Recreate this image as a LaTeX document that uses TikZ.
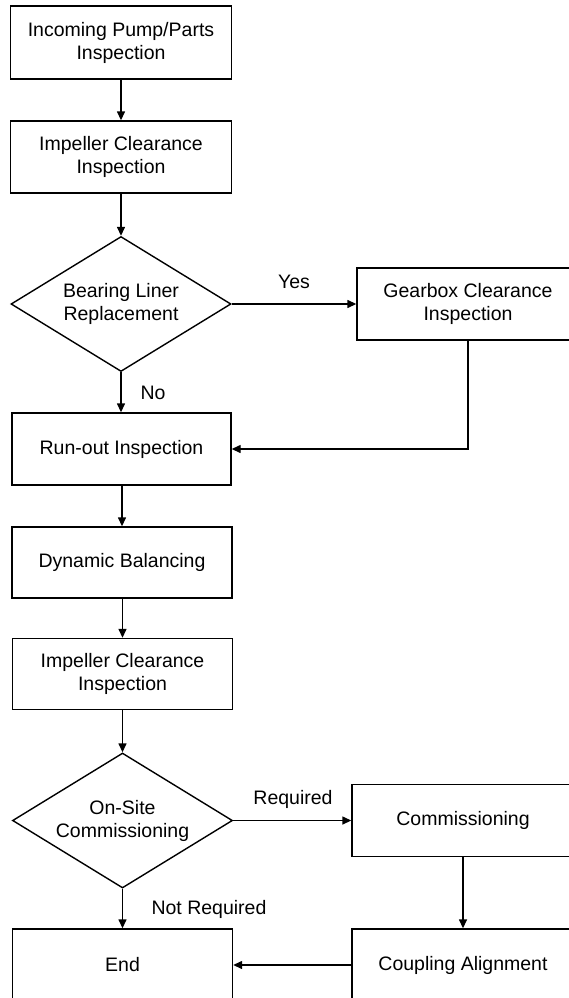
\documentclass[tikz,border=0pt]{standalone}
\usepackage{fontspec}
\setmainfont{Liberation Sans}
\usetikzlibrary{arrows.meta,shapes.geometric}
\begin{document}
\begin{tikzpicture}[x=1pt,y=-1pt,
    every node/.style={font=\fontsize{19.5}{23}\selectfont},
    procbox/.style={draw,line width=1.4pt,rectangle,align=center,
      minimum width=221pt,minimum height=72pt,inner sep=0pt},
    decision/.style={draw,line width=1.4pt,diamond,aspect=1.63,align=center,
      minimum width=220pt,minimum height=135pt,inner sep=0pt},
    flow/.style={line width=1.4pt,-{Triangle[length=9pt,width=8pt]}},
    lbl/.style={inner sep=0pt}]

\useasboundingbox (0,0) rectangle (568,998);

\node[procbox,minimum height=73pt] (incoming) at (121,42.5) {Incoming Pump/Parts\\Inspection};
\node[procbox] (impA) at (121,157) {Impeller Clearance\\Inspection};
\node[decision] (bearing) at (121,304) {Bearing Liner\\Replacement};
\node[procbox,minimum width=222pt] (gearbox) at (468,304) {Gearbox Clearance\\Inspection};
\node[procbox,minimum width=219pt] (runout) at (121.5,449) {Run-out Inspection};
\node[procbox,minimum width=220pt,minimum height=71pt] (dynbal) at (122,562.5) {Dynamic Balancing};
\node[procbox,minimum width=220pt,minimum height=71pt] (impB) at (122.5,674) {Impeller Clearance\\Inspection};
\node[decision] (onsite) at (122.5,820.5) {On-Site\\Commissioning};
\node[procbox,minimum width=222pt] (commiss) at (463,820.5) {Commissioning};
\node[procbox,minimum width=222pt] (coupling) at (463,965) {Coupling Alignment};
\node[procbox,minimum width=220pt] (endbox) at (122.5,965) {End};

\node[lbl] (yes) at (294,282) {Yes};
\node[lbl] (no) at (153,393) {No};
\node[lbl] (req) at (293,799) {Required};
\node[lbl] (notreq) at (209,909) {Not Required};

\draw[flow] (incoming) -- (impA);
\draw[flow] (impA) -- (bearing);
\draw[flow] (bearing.east) -- (gearbox.west);
\draw[flow] (bearing.south) -- (runout.north -| bearing.south);
\draw[flow] (gearbox.south) |- (runout.east);
\draw[flow] (runout.south -| dynbal.north) -- (dynbal.north);
\draw[flow] (dynbal.south -| impB.north) -- (impB.north);
\draw[flow] (impB.south) -- (onsite.north);
\draw[flow] (onsite.east) -- (commiss.west);
\draw[flow] (onsite.south) -- (endbox.north);
\draw[flow] (commiss) -- (coupling);
\draw[flow] (coupling.west) -- (endbox.east);
\end{tikzpicture}
\end{document}
